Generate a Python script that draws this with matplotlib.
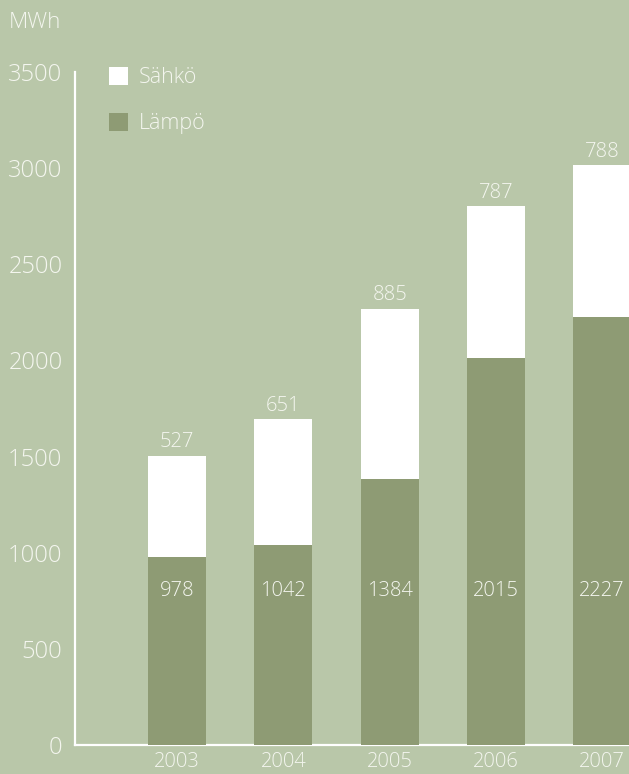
import numpy as np
import matplotlib
matplotlib.use("Agg")
import matplotlib.pyplot as plt
from matplotlib.patches import Patch

years = ["2003", "2004", "2005", "2006", "2007"]
lampo = [978, 1042, 1384, 2015, 2227]
sahko = [527, 651, 885, 787, 788]
yticks = [0, 500, 1000, 1500, 2000, 2500, 3000, 3500]

BG = "#b9c7a9"
DARK = "#8e9b74"
TXT = "#f4f6ef"

plt.rcParams["font.family"] = ["Open Sans", "DejaVu Sans"]

W, H = 629, 774
fig = plt.figure(figsize=(W / 100, H / 100), dpi=100, facecolor=BG)
# axis line at x=75px, baseline at y=745px, 3500 at y=72px
ax = fig.add_axes([75 / W, (H - 745) / H, 1 - 75 / W, (745 - 72) / H])
ax.set_facecolor(BG)

x = np.arange(len(years))
bw = 0.546
ax.bar(x, lampo, width=bw, color=DARK, zorder=3, label="Lämpö")
ax.bar(x, sahko, width=bw, bottom=lampo, color="white", zorder=3, label="Sähkö")

for xi, lo, hi in zip(x, lampo, sahko):
    ax.text(xi, 800, str(lo), ha="center", va="center", color=TXT,
            fontsize=14.5, fontweight="light", zorder=4)
    ax.annotate(str(hi), (xi, lo + hi), xytext=(0, 6), textcoords="offset points",
                ha="center", va="baseline", color=TXT, fontsize=14.5,
                fontweight="light", annotation_clip=False)

ax.set_xlim(-0.96, 4.252)
ax.set_ylim(0, 3500)
ax.set_yticks(yticks)
ax.set_yticklabels([str(v) for v in yticks])
ax.set_xticks(x)
ax.set_xticklabels(years)
ax.tick_params(axis="y", length=0, pad=9, labelsize=17, labelcolor=TXT)
ax.tick_params(axis="x", length=0, pad=5, labelsize=14.5, labelcolor=TXT)
for lab in ax.get_xticklabels() + ax.get_yticklabels():
    lab.set_fontweight("light")

for s in ["top", "right"]:
    ax.spines[s].set_visible(False)
for s in ["left", "bottom"]:
    ax.spines[s].set_color("white")
    ax.spines[s].set_linewidth(1.6)

fig.text(9 / W, 1 - 23 / H, "MWh", ha="left", va="center", color=TXT,
         fontsize=16, fontweight="light")

handles = [Patch(facecolor="white", edgecolor="none", label="Sähkö"),
           Patch(facecolor=DARK, edgecolor="none", label="Lämpö")]
leg = fig.legend(handles=handles, loc="upper left",
                 bbox_to_anchor=(109 / W, 1 - 67 / H), frameon=False,
                 borderpad=0, borderaxespad=0, handlelength=0.88,
                 handleheight=0.88, handletextpad=0.5, labelspacing=1.15,
                 prop={"size": 15.5, "weight": "light"})
for t in leg.get_texts():
    t.set_color(TXT)

fig.savefig("out.png", dpi=100, facecolor=BG)
